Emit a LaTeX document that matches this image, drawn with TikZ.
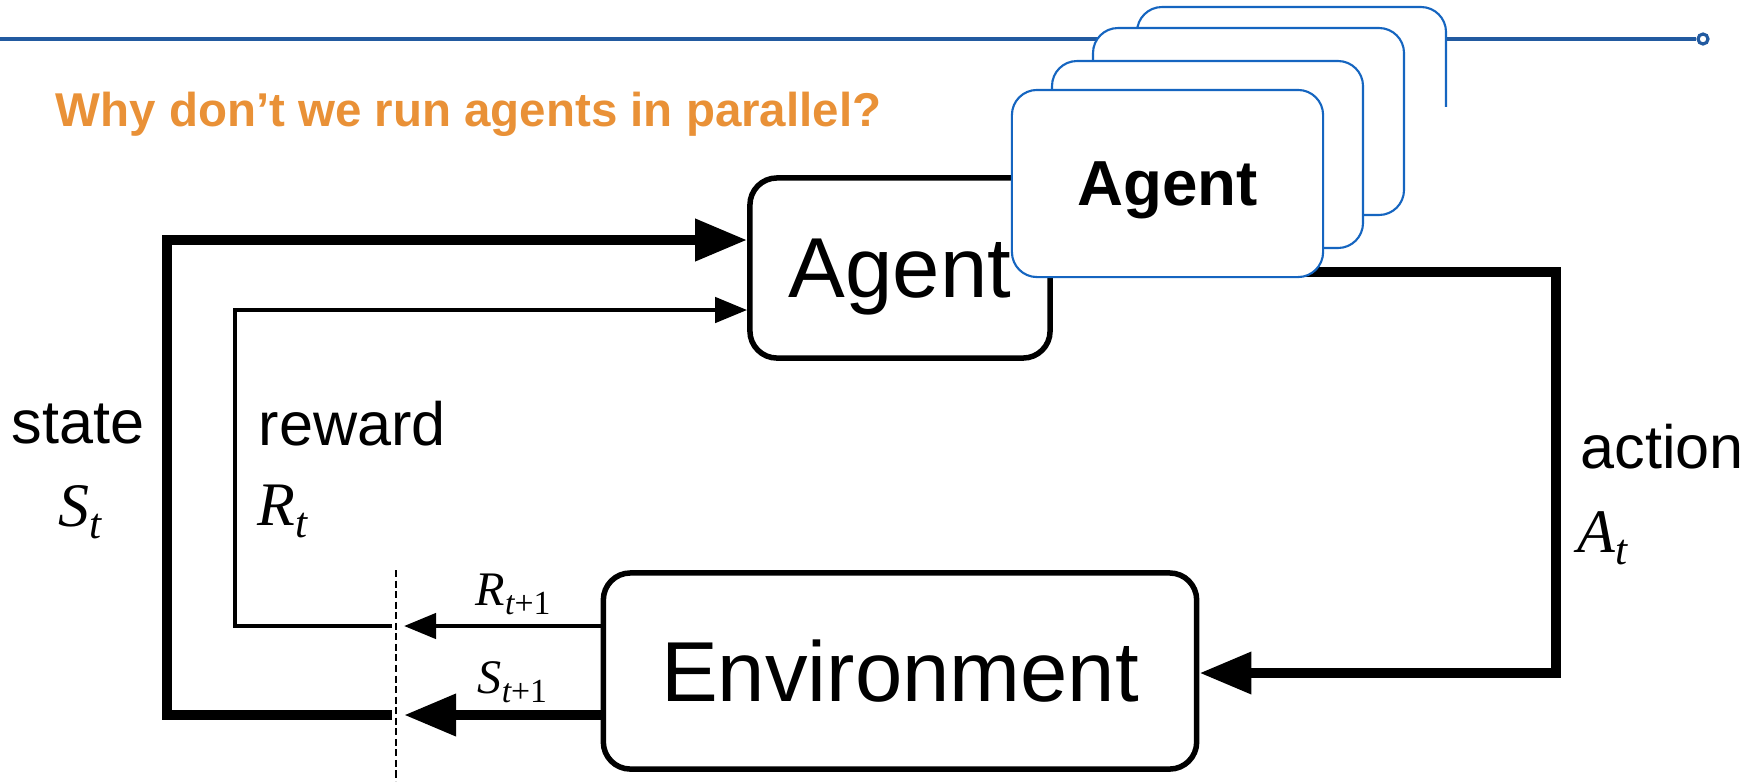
\documentclass[tikz,border=0pt]{standalone}
\usepackage{fontspec}
\setmainfont{Liberation Sans}
\newfontfamily\tms{Liberation Serif}
\usetikzlibrary{arrows.meta}

\definecolor{slideorange}{RGB}{233,145,55}
\definecolor{cardblue}{RGB}{21,101,192}
\definecolor{ruleblue}{RGB}{34,90,160}

\newcommand{\varbig}[2]{{\tms\itshape\fontsize{17.6}{20}\selectfont #1\raisebox{-3.6pt}{\fontsize{12.3}{14}\selectfont #2}}}
\newcommand{\varsmall}[2]{{\tms\itshape\fontsize{13.7}{16}\selectfont #1\raisebox{-2.6pt}{\fontsize{9.6}{11}\selectfont #2}}}

\begin{document}
\begin{tikzpicture}[x=0.01cm, y=-0.01cm, >=Triangle,
    box/.style={draw, line width=0.55mm, rounded corners=0.27cm, fill=white,
      text depth=0pt, font=\fontsize{24.2}{28}\selectfont},
    card/.style={draw=cardblue, line width=0.6pt, rounded corners=0.25cm, fill=white},
    lbl/.style={inner sep=0, font=\fontsize{17.4}{20}\selectfont},
    bigline/.style={line width=1mm},
    bigflow/.style={bigline, -{Triangle[length=0.52cm, width=0.4cm]}},
    smallline/.style={line width=0.45mm},
    smallflow/.style={smallline, -{Triangle[length=0.32cm, width=0.25cm]}},
    cutline/.style={line width=0.4pt, dash pattern=on 2pt off 1pt}]

    \useasboundingbox (0,0) rectangle (1755,781);

    \node[draw=ruleblue, circle, line width=0.9pt, minimum size=0.1cm, inner sep=0] (dot) at (1703,39) {};
    \coordinate (rulestart) at (0,39);
    \draw[ruleblue, line width=1pt] (rulestart) -- (dot);

    \node[anchor=base west, inner sep=0, text=slideorange, font=\bfseries\fontsize{13.5}{16}\selectfont]
        (title) at (55,126) {Why don’t we run agents in parallel?};

    \node[box, minimum width=3cm, minimum height=1.8cm] (agent) at (900,268) {Agent};
    \node[box, minimum width=5.93cm, minimum height=1.96cm] (env) at (900,671) {Environment};

    \draw[bigflow] (agent.east |- 0,272) -- (1556,272) -- (1556,673) -- (env.east |- 0,673);

    \draw[bigflow] (env.west |- 0,715) -- (404,715);
    \draw[bigflow] (392,715) -- (167,715) -- (167,240) -- (agent.west |- 0,240);

    \draw[smallflow] (env.west |- 0,626) -- (404,626);
    \draw[smallflow] (392,626) -- (235,626) -- (235,310) -- (agent.west |- 0,310);

    \draw[cutline] (396,570) -- (396,781);

    \node[lbl, anchor=base] (statetxt) at (78,443) {state};
    \node[anchor=base, inner sep=0] (statevar) at (80,526) {\varbig{S}{t}};
    \node[lbl, anchor=base west] (rewardtxt) at (258,445) {reward};
    \node[anchor=base west, inner sep=0] (rewardvar) at (257,525) {\varbig{R}{t}};
    \node[lbl, anchor=base west] (actiontxt) at (1580,468) {action};
    \node[anchor=base west, inner sep=0] (actionvar) at (1577,552) {\varbig{A}{t}};
    \node[anchor=base west, inner sep=0] (rnext) at (475,605) {\varsmall{R}{t{\upshape+1}}};
    \node[anchor=base west, inner sep=0] (snext) at (477,693) {\varsmall{S}{t{\upshape+1}}};

    \begin{scope}
        \clip (1100,0) rectangle (1500,106);
        \draw[card] (1137,7) rectangle (1446,194);
    \end{scope}
    \foreach \x/\y in {1093/28, 1052/61}
        \draw[card] (\x,\y) rectangle ++(311,187);
    \node[card, minimum width=3.11cm, minimum height=1.87cm, text depth=0pt,
        font=\bfseries\fontsize{18.1}{21}\selectfont] (agentcopy) at (1167.5,183.5) {Agent};

\end{tikzpicture}
\end{document}
